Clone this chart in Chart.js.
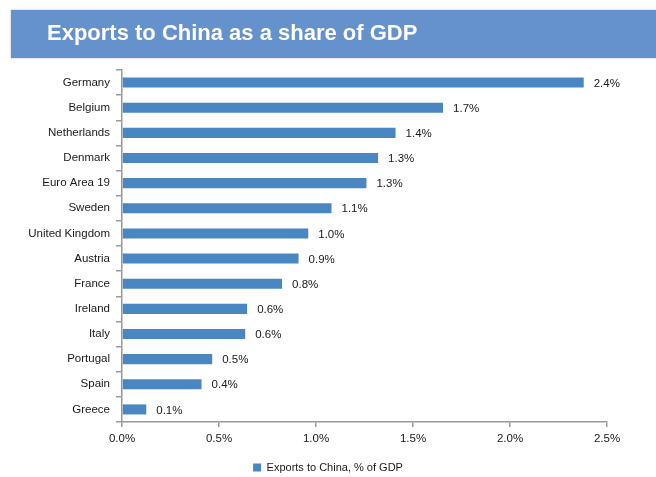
<!DOCTYPE html>
<html>
<head>
<meta charset="utf-8">
<script src="https://cdn.jsdelivr.net/npm/chart.js@4"></script>
<style>
  html, body { margin: 0; padding: 0; background: #fff; }
  #wrap { position: relative; width: 656px; height: 477px; overflow: hidden; }
  #banner {
    position: absolute; left: 11px; top: 10px; width: 645px; height: 48px;
    background: #6592cd; box-shadow: 0 0 2px #bbb;
  }
  #banner span {
    position: absolute; left: 36px; top: 10px;
    font: bold 22px "Liberation Sans", Arial, sans-serif; color: #fff;
  }
  #chart { position: absolute; left: 0; top: 0; }
</style>
</head>
<body>
<div id="wrap">
  <canvas id="chart" width="656" height="483"></canvas>
  <div id="banner"><span>Exports to China as a share of GDP</span></div>
</div>
<script>
const countries = ["Germany", "Belgium", "Netherlands", "Denmark", "Euro Area 19", "Sweden",
  "United Kingdom", "Austria", "France", "Ireland", "Italy", "Portugal", "Spain", "Greece"];
const exportsShare = [2.38, 1.655, 1.41, 1.32, 1.26, 1.08, 0.96, 0.91, 0.825, 0.645, 0.635, 0.465, 0.41, 0.125];
const seriesName = "Exports to China, % of GDP";

const barColor = "#4a86c2";
const axisColor = "#9a9a9a";
const fontFamily = "'Liberation Sans', Arial, sans-serif";

// value labels at the end of each bar
const valueLabels = {
  id: "valueLabels",
  afterDatasetsDraw(chart) {
    const ctx = chart.ctx;
    const meta = chart.getDatasetMeta(0);
    ctx.save();
    ctx.font = "11.5px " + fontFamily;
    ctx.fillStyle = "#1a1a1a";
    ctx.textBaseline = "middle";
    ctx.textAlign = "left";
    meta.data.forEach((bar, i) => {
      ctx.fillText(exportsShare[i].toFixed(1) + "%", bar.x + 10, bar.y + 1);
    });
    ctx.restore();
  }
};

new Chart(document.getElementById("chart"), {
  type: "bar",
  data: {
    labels: countries,
    datasets: [{
      label: seriesName,
      data: exportsShare,
      backgroundColor: barColor,
      borderWidth: 0,
      barPercentage: 0.8,
      categoryPercentage: 0.5
    }]
  },
  options: {
    indexAxis: "y",
    responsive: false,
    animation: false,
    layout: { padding: { left: 0, right: 0, top: 70, bottom: 0 } },
    plugins: {
      legend: {
        position: "bottom",
        labels: {
          boxWidth: 8, boxHeight: 8, padding: 3,
          color: "#1a1a1a",
          font: { family: fontFamily, size: 11 }
        }
      },
      tooltip: { enabled: false }
    },
    scales: {
      x: {
        min: 0, max: 2.5,
        ticks: {
          stepSize: 0.5,
          color: "#1a1a1a",
          font: { family: fontFamily, size: 11.5 },
          padding: 5,
          callback: v => v.toFixed(1) + "%"
        },
        grid: { drawOnChartArea: false, color: axisColor, tickLength: 5, lineWidth: 1.5 },
        border: { color: axisColor, width: 1.5 },
        afterFit: s => { s.height = 37; }
      },
      y: {
        ticks: {
          color: "#1a1a1a",
          font: { family: fontFamily, size: 11.5 },
          padding: 6
        },
        grid: { drawOnChartArea: false, color: axisColor, tickLength: 6, lineWidth: 1.5, offset: true },
        border: { color: axisColor, width: 1.5 },
        afterFit: s => { s.width = 122; }
      },
      // empty right margin so the legend stays centred on the whole canvas
      spacer: {
        type: "linear",
        position: "right",
        grid: { display: false },
        border: { display: false },
        ticks: { display: false },
        afterFit: s => { s.width = 49; }
      }
    }
  },
  plugins: [valueLabels]
});
</script>
</body>
</html>
